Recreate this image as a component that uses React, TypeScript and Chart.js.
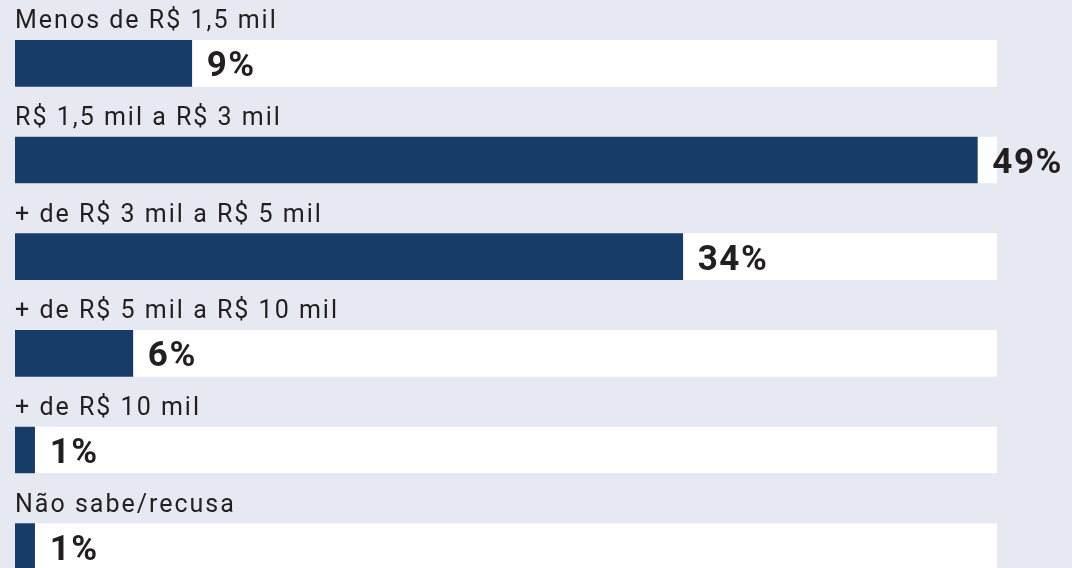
import React, { useEffect, useRef } from "react";
import { Chart, registerables } from "chart.js";

Chart.register(...registerables);

const categories = [
  "Menos de R$ 1,5 mil",
  "R$ 1,5 mil a R$ 3 mil",
  "+ de R$ 3 mil a R$ 5 mil",
  "+ de R$ 5 mil a R$ 10 mil",
  "+ de R$ 10 mil",
  "Não sabe/recusa",
];
const values = [9, 49, 34, 6, 1, 1];
const trackMax = 50;
const trackValues = categories.map(() => trackMax);

const BG = "#e6e9f1";
const NAVY = "#163c67";
const TEXT = "#231f20";

const labelsPlugin = {
  id: "labelsPlugin",
  afterDatasetsDraw(chart: any) {
    const { ctx } = chart;
    const meta = chart.getDatasetMeta(1);
    const xScale = chart.scales.x;
    ctx.save();
    meta.data.forEach((bar: any, i: number) => {
      const props = bar.getProps(["x", "y", "height"], true);
      const top = props.y - props.height / 2;
      ctx.fillStyle = TEXT;
      ctx.font = "400 25px Roboto";
      (ctx as any).letterSpacing = "2px";
      ctx.textAlign = "left";
      ctx.textBaseline = "alphabetic";
      ctx.fillText(categories[i], xScale.getPixelForValue(0), top - 12);
      ctx.font = "700 35px Roboto";
      (ctx as any).letterSpacing = "1.5px";
      ctx.fillText(values[i] + "%", props.x + 15, props.y + 13);
    });
    ctx.restore();
  },
};

export default function App() {
  const ref = useRef<HTMLCanvasElement>(null);
  useEffect(() => {
    document.body.style.margin = "0";
    document.body.style.background = BG;
    const chart = new Chart(ref.current!, {
      type: "bar",
      data: {
        labels: categories,
        datasets: [
          {
            data: trackValues,
            backgroundColor: "#ffffff",
            grouped: false,
            order: 2,
            barThickness: 46,
          } as any,
          {
            data: values,
            backgroundColor: NAVY,
            grouped: false,
            order: 1,
            barThickness: 46,
          } as any,
        ],
      },
      options: {
        indexAxis: "y",
        animation: false,
        responsive: true,
        maintainAspectRatio: false,
        layout: { padding: { left: 15, right: 75, top: 15, bottom: 5 } },
        plugins: { legend: { display: false }, tooltip: { enabled: false } },
        scales: {
          x: { min: 0, max: trackMax, display: false },
          y: { display: false, offset: true },
        },
      },
      plugins: [labelsPlugin],
    });
    return () => chart.destroy();
  }, []);
  return (
    <div style={{ position: "fixed", left: 0, top: 0, width: 1072, height: 568, overflow: "hidden", background: BG }}>
      <div style={{ width: 1072, height: 600, position: "relative" }}>
        <canvas ref={ref} />
      </div>
    </div>
  );
}
